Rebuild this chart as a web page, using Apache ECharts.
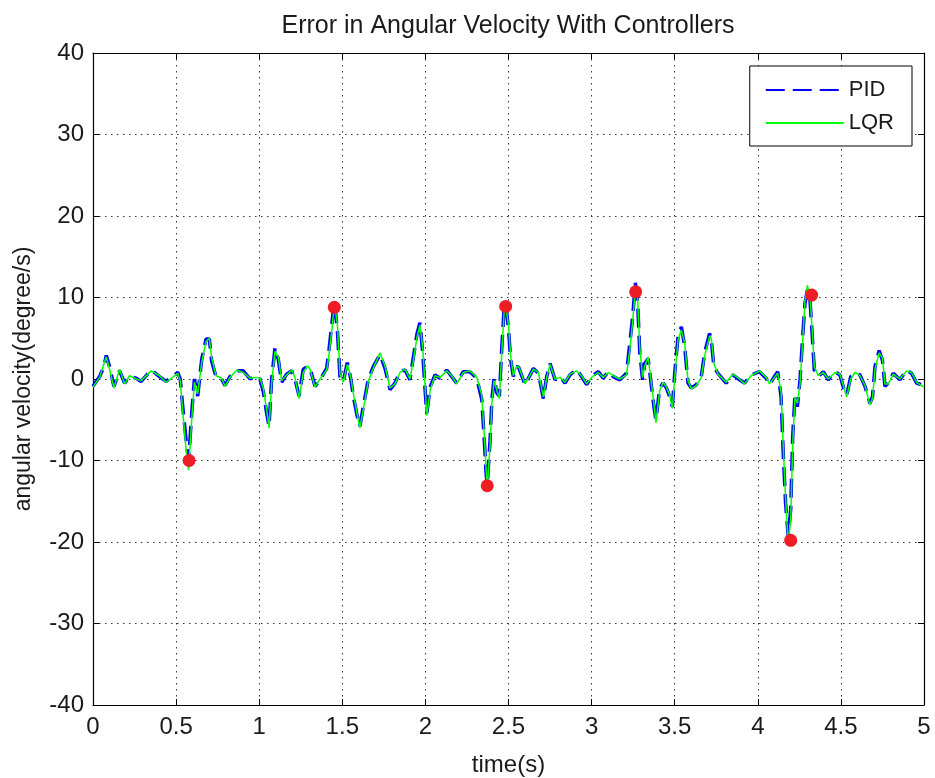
<!DOCTYPE html>
<html>
<head>
<meta charset="utf-8">
<script src="https://cdn.jsdelivr.net/npm/echarts@6/dist/echarts.min.js"></script>
<style>
  html, body { margin: 0; padding: 0; background: #fff; }
  #chart { width: 935px; height: 778px; }
</style>
</head>
<body>
<div id="chart"></div>
<script>
// Sample times (s)
const timeS = [
  0.00, 0.01, 0.04, 0.065, 0.08, 0.10, 0.126, 0.16, 0.19, 0.22,
  0.26, 0.29, 0.35, 0.40, 0.44, 0.51, 0.525, 0.54, 0.56, 0.575,
  0.594, 0.61, 0.63, 0.654, 0.68, 0.70, 0.714, 0.74, 0.774, 0.794,
  0.824, 0.865, 0.904, 0.945, 0.975, 1.005, 1.025, 1.045, 1.059, 1.075,
  1.095, 1.115, 1.135, 1.165, 1.196, 1.215, 1.24, 1.265, 1.29, 1.306,
  1.336, 1.366, 1.406, 1.42, 1.438, 1.452, 1.47, 1.486, 1.506, 1.53,
  1.55, 1.57, 1.59, 1.606, 1.626, 1.656, 1.686, 1.727, 1.757, 1.787,
  1.817, 1.847, 1.877, 1.907, 1.927, 1.95, 1.967, 1.984, 1.998, 2.008,
  2.03, 2.058, 2.088, 2.128, 2.158, 2.188, 2.228, 2.268, 2.309, 2.339,
  2.353, 2.365, 2.372, 2.389, 2.40, 2.413, 2.43, 2.445, 2.46, 2.473,
  2.483, 2.50, 2.513, 2.529, 2.545, 2.56, 2.60, 2.65, 2.68, 2.71,
  2.73, 2.75, 2.78, 2.81, 2.84, 2.87, 2.91, 2.94, 2.97, 3.00,
  3.04, 3.07, 3.10, 3.13, 3.17, 3.21, 3.23, 3.247, 3.263, 3.277,
  3.29, 3.307, 3.32, 3.34, 3.36, 3.375, 3.387, 3.41, 3.43, 3.45,
  3.47, 3.486, 3.50, 3.52, 3.54, 3.56, 3.58, 3.60, 3.63, 3.66,
  3.68, 3.71, 3.72, 3.736, 3.76, 3.81, 3.85, 3.89, 3.92, 3.96,
  4.01, 4.05, 4.07, 4.10, 4.12, 4.14, 4.153, 4.167, 4.183, 4.198,
  4.21, 4.224, 4.238, 4.254, 4.27, 4.284, 4.298, 4.314, 4.328, 4.34,
  4.364, 4.394, 4.424, 4.464, 4.494, 4.519, 4.535, 4.559, 4.585, 4.615,
  4.645, 4.675, 4.69, 4.705, 4.73, 4.75, 4.765, 4.785, 4.815, 4.855,
  4.895, 4.925, 4.955, 4.985, 5.00
];

// Angular velocity error with the PID controller (degree/s)
const pidErr = [
  -0.9, -0.9, 0.3, 1.5, 2.9, 1.5, -0.9, 1.0, -0.5, 0.3,
  0.1, -0.3, 1.1, 0.3, -0.3, 0.8, 0.0, -3.4, -7.5, -10.0,
  -4.2, 0.0, -2.1, 2.4, 4.9, 4.9, 2.2, 0.3, 0.0, -0.8,
  0.3, 1.0, 1.0, 0.0, 0.3, 0.0, -1.6, -4.2, -5.8, 0.0,
  3.8, 2.4, -0.4, 0.6, 1.0, 0.0, -2.1, 1.2, 1.5, 1.3,
  -0.9, -0.1, 1.3, 3.6, 6.9, 9.6, 6.1, 0.3, -0.3, 2.0,
  0.1, -2.5, -4.6, -5.8, -3.4, -0.1, 1.5, 3.0, 1.3, -1.3,
  -0.5, 0.9, 1.1, -0.1, 2.6, 5.6, 6.9, 3.2, -1.3, -4.2,
  -0.9, 0.5, 0.1, 1.1, 0.3, -0.5, 0.9, 0.9, 0.1, -2.5,
  -7.0, -11.5, -13.0, -7.5, -2.5, 0.1, -1.7, -2.1, 4.0, 8.5,
  9.3, 6.1, 2.4, 0.3, 1.5, 1.5, -0.7, 1.3, 0.7, -2.4,
  0.3, 1.9, -0.1, 0.3, -0.5, 0.5, 1.2, 0.3, -0.7, 0.3,
  0.9, 0.1, 0.9, 0.3, -0.1, 0.7, 4.4, 7.6, 11.8, 9.4,
  3.2, -0.1, 1.9, 2.5, -0.9, -3.4, -5.0, -1.1, -0.5, -1.1,
  -2.2, -3.4, 0.7, 5.2, 6.4, 4.0, -0.5, -1.1, -0.7, 0.3,
  3.2, 5.6, 4.8, 1.5, 0.7, -0.5, 0.5, -0.1, -0.5, 0.5,
  0.9, 0.1, -0.7, 0.3, 0.9, -2.2, -9.1, -15.2, -19.3, -16.0,
  -7.1, -1.8, -3.4, -0.1, 5.2, 9.3, 10.9, 9.7, 5.2, 1.1,
  0.3, 0.9, -0.1, 0.9, 0.5, -1.3, -2.0, 0.3, 0.7, 0.5,
  -0.9, -3.0, -2.2, 1.5, 3.5, 2.3, -0.9, -0.5, 0.7, -0.1,
  1.1, 0.7, -0.5, -0.7, -0.9
];

// Angular velocity error with the LQR controller (degree/s)
const lqrErr = [
  -1.0, -0.8, 0.2, 1.8, 2.7, 1.2, -1.1, 1.2, -0.6, 0.4,
  0.0, -0.2, 1.0, 0.4, -0.4, 0.7, -0.2, -4.0, -8.6, -11.2,
  -5.0, -0.4, -1.8, 2.0, 4.6, 5.0, 2.6, 0.4, 0.1, -0.9,
  0.2, 1.1, 0.8, 0.1, 0.2, 0.1, -1.2, -3.8, -6.0, -0.5,
  3.4, 2.7, -0.2, 0.5, 1.1, 0.2, -2.4, 0.8, 1.6, 1.2,
  -1.0, 0.0, 1.1, 3.0, 6.2, 9.2, 6.8, 0.6, -0.4, 1.8,
  0.3, -2.2, -4.4, -6.0, -3.8, -0.3, 1.3, 3.2, 1.6, -1.1,
  -0.6, 0.8, 1.2, 0.0, 2.2, 5.2, 6.6, 3.8, -0.8, -4.5,
  -1.2, 0.4, 0.2, 1.0, 0.4, -0.6, 0.8, 1.0, 0.2, -2.0,
  -6.4, -11.0, -13.4, -8.2, -3.0, -0.2, -1.4, -2.4, 3.4, 8.0,
  9.0, 6.6, 2.8, 0.4, 1.4, 1.6, -0.6, 1.2, 0.8, -2.2,
  0.2, 1.8, 0.0, 0.2, -0.4, 0.6, 1.0, 0.4, -0.6, 0.2,
  0.8, 0.2, 0.8, 0.4, 0.0, 0.5, 3.6, 7.0, 11.0, 9.8,
  3.8, 0.2, 1.6, 2.7, -0.6, -3.0, -5.4, -1.4, -0.4, -1.0,
  -2.0, -3.6, 0.2, 4.8, 6.0, 4.4, -0.2, -1.2, -0.8, 0.2,
  2.8, 5.3, 5.0, 1.9, 0.6, -0.4, 0.6, 0.0, -0.6, 0.4,
  1.0, 0.2, -0.6, 0.2, 0.7, -1.6, -8.2, -14.6, -20.2, -17.2,
  -8.0, -2.2, -3.0, -0.6, 4.6, 9.6, 11.5, 10.2, 5.8, 1.5,
  0.4, 0.8, 0.0, 0.8, 0.6, -1.1, -2.2, 0.0, 0.8, 0.4,
  -0.8, -3.2, -2.4, 1.2, 3.2, 2.6, -0.6, -0.6, 0.6, 0.0,
  1.0, 0.8, -0.4, -0.8, -1.0
];

// Marked peak disturbances
const peakT = [0.578, 1.452, 2.372, 2.483, 3.265, 4.198, 4.324];
const peakV = [-10.0, 8.8, -13.1, 8.9, 10.7, -19.8, 10.3];

const xTicks = { min: 0, max: 5, interval: 0.5 };
const yTicks = { min: -40, max: 40, interval: 10 };

const zip = (a, b) => a.map((v, i) => [v, b[i]]);
const FONT = '"Liberation Sans", Arial, Helvetica, sans-serif';
const INK = '#1a1a1a';

const chart = echarts.init(document.getElementById('chart'), null, { renderer: 'canvas' });

const gridLine = { show: true, lineStyle: { color: '#333', width: 1, type: [1.5, 4.5] } };
const boxLine = { show: true, onZero: false, lineStyle: { color: '#000', width: 1.2 } };
const tickIn = { show: true, inside: true, length: 6, lineStyle: { color: '#000', width: 1 } };

chart.setOption({
  animation: false,
  backgroundColor: '#fff',
  title: {
    text: 'Error in Angular Velocity With Controllers',
    left: 503, top: 9, textAlign: 'center',
    textStyle: { fontFamily: FONT, fontSize: 25, fontWeight: 'normal', color: INK }
  },
  legend: {
    orient: 'vertical',
    right: 23, top: 66,
    padding: [13, 18, 12, 15],
    itemGap: 11,
    itemWidth: 78, itemHeight: 22,
    backgroundColor: '#fff',
    borderColor: '#000', borderWidth: 1,
    itemStyle: { opacity: 0 },
    textStyle: { fontFamily: FONT, fontSize: 22, color: INK },
    data: ['PID', 'LQR']
  },
  grid: {
    left: 93, right: 11, top: 53, bottom: 73,
    containLabel: false, outerBoundsMode: 'none'
  },
  xAxis: [
    {
      type: 'value', ...xTicks,
      name: 'time(s)', nameLocation: 'middle', nameGap: 48,
      nameTextStyle: { fontFamily: FONT, fontSize: 24, color: INK },
      axisLine: boxLine, axisTick: tickIn, splitLine: gridLine,
      axisLabel: { fontFamily: FONT, fontSize: 24, color: INK, margin: 10 }
    },
    {
      type: 'value', ...xTicks, position: 'top',
      axisLine: boxLine, axisTick: tickIn, splitLine: { show: false },
      axisLabel: { show: false }
    }
  ],
  yAxis: [
    {
      type: 'value', ...yTicks,
      name: 'angular velocity(degree/s)', nameLocation: 'middle', nameGap: 58,
      nameTextStyle: { fontFamily: FONT, fontSize: 23, color: INK },
      axisLine: boxLine, axisTick: tickIn, splitLine: gridLine,
      axisLabel: { fontFamily: FONT, fontSize: 24, color: INK, margin: 9 }
    },
    {
      type: 'value', ...yTicks, position: 'right',
      axisLine: boxLine, axisTick: tickIn, splitLine: { show: false },
      axisLabel: { show: false }
    }
  ],
  series: [
    {
      name: 'PID', type: 'line', symbol: 'none',
      data: zip(timeS, pidErr),
      lineStyle: { color: '#0000ff', width: 3.5, type: [19, 8] },
      itemStyle: { color: '#0000ff' },
      z: 2
    },
    {
      name: 'LQR', type: 'line', symbol: 'none',
      data: zip(timeS, lqrErr),
      lineStyle: { color: '#00ff00', width: 1.5 },
      itemStyle: { color: '#00ff00' },
      z: 3
    },
    {
      name: 'peaks', type: 'scatter',
      data: zip(peakT, peakV),
      symbol: 'circle', symbolSize: 13,
      itemStyle: { color: '#ee1c24', opacity: 1 },
      z: 4
    }
  ]
});
</script>
</body>
</html>
